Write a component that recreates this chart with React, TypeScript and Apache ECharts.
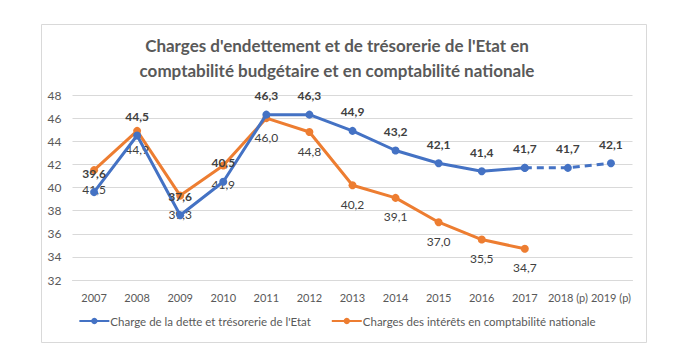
import React, { useEffect, useRef } from "react";
import * as echarts from "echarts";

const categories = ["2007", "2008", "2009", "2010", "2011", "2012", "2013", "2014", "2015", "2016", "2017", "2018 (p)", "2019 (p)"];
const detteValues = [39.6, 44.5, 37.6, 40.5, 46.3, 46.3, 44.9, 43.2, 42.1, 41.4, 41.7, null, null];
const detteProjection = [null, null, null, null, null, null, null, null, null, null, 41.7, 41.7, 42.1];
const interetsValues = [41.5, 44.9, 39.3, 41.9, 46.0, 44.8, 40.2, 39.1, 37.0, 35.5, 34.7, null, null];
const yTicks = { min: 32, max: 48, interval: 2 };

const serieDette = "Charge de la dette et trésorerie de l'Etat";
const serieInterets = "Charges des intérêts en comptabilité nationale";
const titleText = "Charges d'endettement et de trésorerie de l'Etat en\ncomptabilité budgétaire et en comptabilité nationale";

const BLUE = "#4472C4";
const ORANGE = "#ED7D31";
const FONT = "Lato, 'Open Sans', sans-serif";
const fmt = (v: number) => v.toFixed(1).replace(".", ",");

export default function App() {
  const ref = useRef<HTMLDivElement>(null);
  useEffect(() => {
    if (!ref.current) return;
    const chart = echarts.init(ref.current, undefined, { renderer: "svg" });
    chart.setOption({
      animation: false,
      backgroundColor: "#ffffff",
      textStyle: { fontFamily: FONT },
      title: {
        text: titleText,
        left: "center",
        top: 28,
        textStyle: { fontFamily: FONT, fontSize: 17, fontWeight: "bold", color: "#595959", lineHeight: 25 },
      },
      graphic: [
        {
          type: "rect",
          shape: { x: 41.5, y: 24.5, width: 605, height: 318 },
          style: { fill: "none", stroke: "#D9D9D9", lineWidth: 1 },
          silent: true,
        },
      ],
      legend: {
        data: [serieDette, serieInterets],
        bottom: 28,
        left: "center",
        itemWidth: 30,
        itemHeight: 8,
        itemGap: 20,
        textStyle: { fontFamily: FONT, fontSize: 11.5, color: "#595959", padding: [0, 0, 0, -4] },
      },
      grid: { left: 72.5, right: 41.5, top: 95, bottom: 80, containLabel: false },
      xAxis: {
        type: "category",
        data: categories,
        boundaryGap: true,
        axisLine: { show: true, lineStyle: { color: "#D9D9D9" } },
        axisTick: { show: false },
        axisLabel: { color: "#595959", fontSize: 11, fontFamily: FONT, margin: 12, interval: 0 },
      },
      yAxis: {
        type: "value",
        min: yTicks.min,
        max: yTicks.max,
        interval: yTicks.interval,
        axisLine: { show: false },
        axisTick: { show: false },
        splitLine: { lineStyle: { color: "#D9D9D9" } },
        axisLabel: { color: "#595959", fontSize: 12, fontFamily: FONT, margin: 11 },
      },
      series: [
        {
          name: serieInterets,
          type: "line",
          data: interetsValues,
          color: ORANGE,
          symbol: "circle",
          symbolSize: 8,
          lineStyle: { width: 3, color: ORANGE },
          itemStyle: { color: ORANGE },
          label: {
            show: true,
            position: "bottom",
            distance: 9,
            formatter: (p: any) => fmt(p.value),
            color: "#404040",
            fontSize: 12,
            fontFamily: FONT,
          },
          z: 2,
        },
        {
          name: serieDette,
          type: "line",
          data: detteValues,
          color: BLUE,
          symbol: "circle",
          symbolSize: 8,
          lineStyle: { width: 3, color: BLUE },
          itemStyle: { color: BLUE },
          label: {
            show: true,
            position: "top",
            distance: 9,
            formatter: (p: any) => fmt(p.value),
            color: "#404040",
            fontSize: 12,
            fontWeight: "bold",
            fontFamily: FONT,
          },
          z: 3,
        },
        {
          name: serieDette,
          type: "line",
          data: detteProjection,
          color: BLUE,
          symbol: "circle",
          symbolSize: 8,
          lineStyle: { width: 3, color: BLUE, type: [7, 5] },
          itemStyle: { color: BLUE },
          label: {
            show: true,
            position: "top",
            distance: 9,
            formatter: (p: any) => (p.dataIndex >= 11 ? fmt(p.value) : ""),
            color: "#404040",
            fontSize: 12,
            fontWeight: "bold",
            fontFamily: FONT,
          },
          z: 3,
        },
      ],
    });
    return () => chart.dispose();
  }, []);
  return <div ref={ref} style={{ position: "fixed", left: 0, top: 0, width: 674, height: 360 }} />;
}
